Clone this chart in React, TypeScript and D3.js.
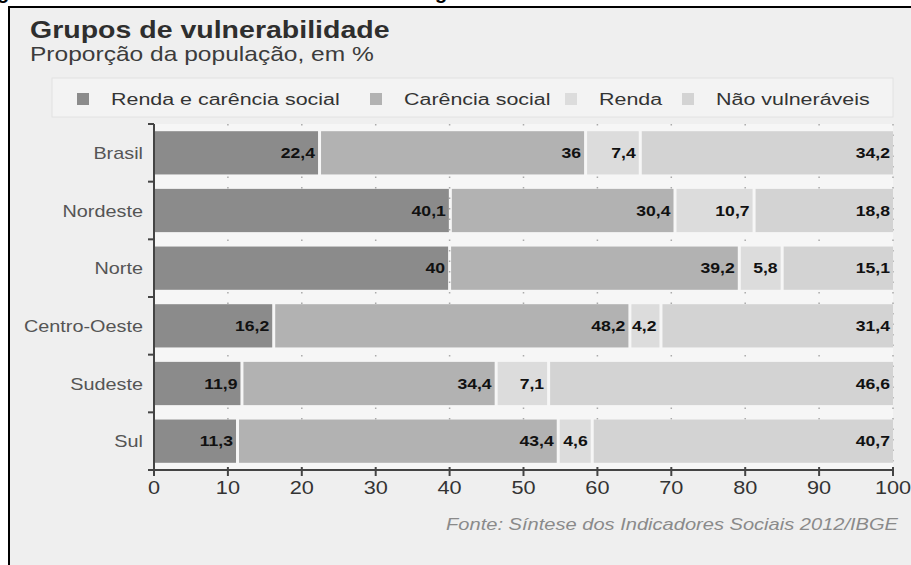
import React from "react";
import * as d3 from "d3";

const regions = ["Brasil", "Nordeste", "Norte", "Centro-Oeste", "Sudeste", "Sul"];
const rendaCarencia = [22.4, 40.1, 40, 16.2, 11.9, 11.3];
const carencia = [36, 30.4, 39.2, 48.2, 34.4, 43.4];
const renda = [7.4, 10.7, 5.8, 4.2, 7.1, 4.6];
const naoVuln = [34.2, 18.8, 15.1, 31.4, 46.6, 40.7];
const seriesNames = ["Renda e carência social", "Carência social", "Renda", "Não vulneráveis"];
const seriesKeys = ["rc", "c", "r", "n"];
const seriesColors = ["#8b8b8b", "#b2b2b2", "#dcdcdc", "#d3d3d3"];
const xTicks = [0, 10, 20, 30, 40, 50, 60, 70, 80, 90, 100];
const title = "Grupos de vulnerabilidade";
const subtitle = "Proporção da população, em %";
const source = "Fonte: Síntese dos Indicadores Sociais 2012/IBGE";

const W = 911;
const H = 565;
const SX = 1.24;
const FONT = "'Liberation Sans', Arial, Helvetica, sans-serif";

function T(props: any) {
  const { x, y, children, ...rest } = props;
  return (
    <text transform={`translate(${x},${y}) scale(${SX},1)`} fontFamily={FONT} {...rest}>
      {children}
    </text>
  );
}

export default function App() {
  const rows = regions.map((r, i) => ({
    region: r,
    rc: rendaCarencia[i],
    c: carencia[i],
    r: renda[i],
    n: naoVuln[i],
  }));
  const stack = d3.stack<any>().keys(seriesKeys);
  const stacked = stack(rows);

  const x = d3.scaleLinear().domain([0, 100]).range([154, 893]);
  const y = d3.scaleBand<string>().domain(regions).range([124, 470]).paddingInner(0.25).paddingOuter(0.125);
  const step = y.step();
  const boundaries = regions.map((r) => (y(r) as number) - (step - y.bandwidth()) / 2);
  boundaries.push(470);

  const legendX = [77, 370, 565, 682];
  const fmt = (v: number) => String(v).replace(".", ",");

  return (
    <svg width={W} height={H} style={{ position: "absolute", left: 0, top: 0, display: "block" }}>
      <rect x={0} y={0} width={W} height={H} fill="#ffffff" />
      <rect x={10} y={8} width={W - 10} height={H - 8} fill="#efefef" />
      {/* cut-off text fragments above the frame */}
      <text x={-3} y={-1} fontFamily={FONT} fontWeight="bold" fontSize={20} fill="#000">g</text>
      <text x={435} y={-1} fontFamily={FONT} fontWeight="bold" fontSize={20} fill="#000">g</text>
      <line x1={9} x2={W} y1={7} y2={7} stroke="#000" strokeWidth={2} />
      <line x1={9} x2={9} y1={6} y2={H} stroke="#000" strokeWidth={2} />

      <T x={30} y={38} fontSize={23} fontWeight="bold" fill="#2e2e2e">{title}</T>
      <T x={30} y={61} fontSize={19.8} fill="#3c3c3c">{subtitle}</T>

      {/* legend */}
      <rect x={52} y={78} width={841} height={39} fill="#f3f3f3" stroke="#e2e2e2" strokeWidth={1} />
      {seriesNames.map((s, i) => (
        <g key={s}>
          <rect x={legendX[i]} y={93} width={12} height={12} fill={seriesColors[i]} />
          <T x={legendX[i] + 34} y={105} fontSize={17.3} fill="#333">{s}</T>
        </g>
      ))}

      {/* panel */}
      <rect x={x(0)} y={124} width={x(100) - x(0)} height={346} fill="#f6f6f6" />
      {xTicks.map((t) => (
        <line key={"g" + t} x1={x(t)} x2={x(t)} y1={124} y2={470} stroke="#aaaaaa" strokeWidth={1.5} strokeDasharray="1.5,9" />
      ))}

      {/* bars */}
      {stacked.map((layer, si) => (
        <g key={layer.key}>
          {layer.map((d: any, ri: number) => {
            const x0 = x(d[0]) + (si > 0 ? 1.5 : 0);
            const x1 = x(Math.min(d[1], 100)) - (si < 3 ? 1.5 : 0);
            const yy = y(regions[ri]) as number;
            const val = d[1] - d[0];
            return (
              <g key={ri}>
                <rect x={x0} y={yy} width={Math.max(0, x1 - x0)} height={y.bandwidth()} fill={seriesColors[si]} />
                <T x={x1 - 3} y={yy + y.bandwidth() / 2 + 5} fontSize={14.2} fontWeight="bold" fill="#111" textAnchor="end">
                  {fmt(Math.round(val * 10) / 10)}
                </T>
              </g>
            );
          })}
        </g>
      ))}

      {/* y axis */}
      <line x1={x(0)} x2={x(0)} y1={124} y2={470} stroke="#444" strokeWidth={2} />
      {boundaries.map((b, i) => (
        <line key={"yt" + i} x1={x(0) - 6} x2={x(0)} y1={b} y2={b} stroke="#444" strokeWidth={2} />
      ))}
      {regions.map((r) => (
        <T key={r} x={143} y={(y(r) as number) + y.bandwidth() / 2 + 6} fontSize={16} fill="#555" textAnchor="end">
          {r}
        </T>
      ))}

      {/* x axis */}
      <line x1={x(0)} x2={x(100)} y1={470} y2={470} stroke="#444" strokeWidth={2} />
      {xTicks.map((t) => (
        <g key={"xt" + t}>
          <line x1={x(t)} x2={x(t)} y1={467} y2={476} stroke="#444" strokeWidth={2} />
          <T x={x(t)} y={494} fontSize={17.5} fill="#333" textAnchor="middle">{t}</T>
        </g>
      ))}

      <T x={898} y={530} fontSize={16.2} fontStyle="italic" fill="#8a8a8a" textAnchor="end">{source}</T>
    </svg>
  );
}
